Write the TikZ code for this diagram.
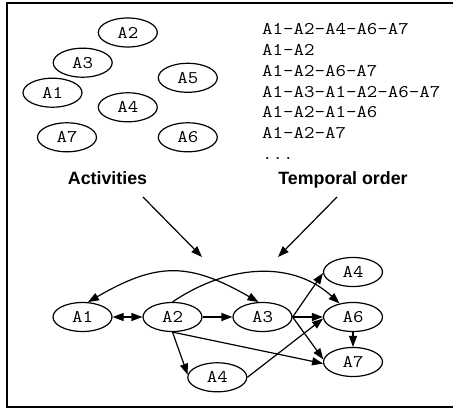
\documentclass[tikz,border=0pt]{standalone}
\usepackage{fontspec}
\newfontfamily\labfont{Liberation Sans}
\newfontfamily\codefont{Latin Modern Mono}[FakeStretch=1.143]
\usetikzlibrary{arrows.meta,shapes.geometric}
\begin{document}
\begin{tikzpicture}[x=1pt,y=-1pt,
  act/.style={ellipse,draw,line width=1.2pt,minimum width=59pt,minimum height=29pt,inner sep=0pt,
    font=\codefont\fontsize{17.8}{20}\selectfont},
  seq/.style={anchor=base west,inner sep=0pt,font=\codefont\fontsize{17.8}{20}\selectfont},
  lab/.style={anchor=base,inner sep=0pt,font=\labfont\bfseries\fontsize{17.8}{20}\selectfont},
  edge/.style={line width=1.2pt,-{Triangle[length=11pt,width=8pt]}},
  bothedge/.style={line width=1.2pt,{Triangle[length=11pt,width=8pt]}-{Triangle[length=11pt,width=8pt]}}
]
\useasboundingbox (0,0) rectangle (453,409);
\fill[white] (0,0) rectangle (453,409);
% frame
\draw[line width=1.3pt] (455,3) -- (7,3) -- (7,407) -- (455,407);

% activities (top left)
\node[act] (t2) at (127.8,32.5) {A2};
\node[act] (t3) at (82.7,62.7) {A3};
\node[act] (t1) at (52.5,92.7) {A1};
\node[act] (t5) at (187.8,77.8) {A5};
\node[act] (t4) at (127.8,107.3) {A4};
\node[act] (t7) at (67,137.3) {A7};
\node[act] (t6) at (187.8,137.3) {A6};

% sequences (top right)
\node[seq] (l1) at (262,35) {A1-A2-A4-A6-A7};
\node[seq] (l2) at (262,55.7) {A1-A2};
\node[seq] (l3) at (262,76.4) {A1-A2-A6-A7};
\node[seq] (l4) at (262,97.1) {A1-A3-A1-A2-A6-A7};
\node[seq] (l5) at (262,117.8) {A1-A2-A1-A6};
\node[seq] (l6) at (262,138.5) {A1-A2-A7};
\node[seq] (l7) at (262,159.2) {...};

% labels
\node[lab] (actlab) at (107.5,184.5) {Activities};
\node[lab] (tmplab) at (343,184.5) {Temporal order};
\coordinate (as) at (143,197);
\coordinate (at) at (202,257);
\coordinate (ts) at (337,197);
\coordinate (tt) at (278,257);
\draw[edge] (as) -- (at);
\draw[edge] (ts) -- (tt);

% resulting graph
\node[act] (b1) at (82.5,317) {A1};
\node[act] (b2) at (172.5,317) {A2};
\node[act] (b3) at (262.5,317) {A3};
\node[act] (b4u) at (353,272) {A4};
\node[act] (b6) at (353,317) {A6};
\node[act] (b7) at (353,362) {A7};
\node[act] (b4l) at (217.3,377.3) {A4};

\draw[bothedge] (b1.70) .. controls (157,262) and (189,262) .. (b3.105);
\draw[edge] (b2.90) .. controls (232,262) and (295,262) .. (b6.135);
\draw[bothedge] (b1) -- (b2);
\draw[edge] (b2) -- (b3);
\draw[edge] (b2.south) -- (b4l.175);
\draw[edge] (b2.south) -- (b7.183);
\draw[edge] (b3.east) -- (b4u.182);
\draw[edge] (b3) -- (b6);
\draw[edge] (b3.east) -- (b7.175);
\draw[edge] (b4l.east) -- (b6.183);
\draw[edge] (b6) -- (b7);
\end{tikzpicture}
\end{document}
